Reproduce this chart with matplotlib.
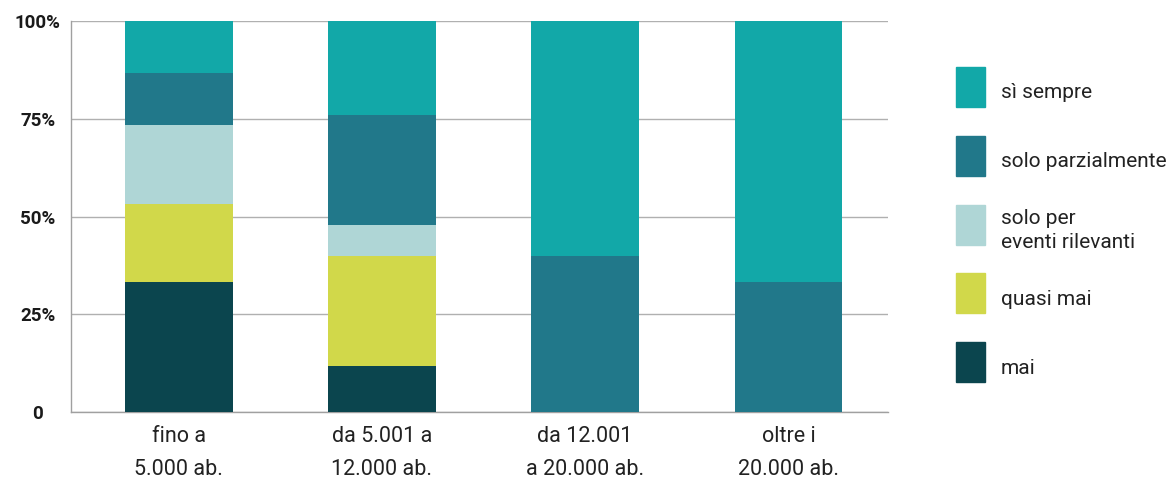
import matplotlib
matplotlib.use("Agg")
import matplotlib.pyplot as plt
from matplotlib.patches import Rectangle
import numpy as np

plt.rcParams['font.family'] = ['Roboto', 'DejaVu Sans']

categories = ["fino a\n5.000 ab.", "da 5.001 a\n12.000 ab.", "da 12.001\na 20.000 ab.", "oltre i\n20.000 ab."]

# shares per category, bottom to top
mai = [33.3, 11.8, 0, 0]
quasi_mai = [20.0, 28.2, 0, 0]
eventi_rilevanti = [20.0, 7.7, 0, 0]
parzialmente = [13.4, 28.2, 40.0, 33.3]
sempre = [13.3, 24.1, 60.0, 66.7]

series = [
    ("mai", mai, "#0B454E"),
    ("quasi mai", quasi_mai, "#D1D84A"),
    ("solo per\neventi rilevanti", eventi_rilevanti, "#AFD6D6"),
    ("solo parzialmente", parzialmente, "#21788A"),
    ("sì sempre", sempre, "#12A8A8"),
]

W, H = 1173, 479
fig = plt.figure(figsize=(W / 100, H / 100), dpi=100)
ax = fig.add_axes([71 / W, 1 - 412 / H, 817 / W, 391 / H])

x = np.arange(len(categories))
bottom = np.zeros(len(categories))
for label, vals, color in series:
    vals = np.array(vals)
    ax.bar(x, vals, bottom=bottom, width=0.53, color=color, label=label, zorder=3)
    bottom += vals

ax.set_xlim(-0.53, 3.49)
ax.set_ylim(0, 100)
ax.set_yticks([0, 25, 50, 75, 100])
ax.set_yticklabels(["0", "25%", "50%", "75%", "100%"], fontsize=13.5, fontweight='bold', color='#1a1a1a')
for t in ax.get_yticklabels():
    t.set_horizontalalignment('center')
ax.tick_params(axis='y', length=0, pad=24)
ax.set_xticks(x)
ax.set_xticklabels(categories, fontsize=15.5, color='#222222', linespacing=1.75)
ax.tick_params(axis='x', length=0, pad=10)

ax.grid(axis='y', color='#b0b0b0', linewidth=1, zorder=0)
for side in ['top', 'right']:
    ax.spines[side].set_visible(False)
for side in ['left', 'bottom']:
    ax.spines[side].set_color('#a0a0a0')
    ax.spines[side].set_linewidth(1)

# legend drawn by hand, top entry first
for i, (label, vals, color) in enumerate(series[::-1]):
    top = 67 + i * 68.8
    fig.add_artist(Rectangle((956 / W, 1 - (top + 40) / H), 29 / W, 40 / H,
                             transform=fig.transFigure, color=color))
    fig.text(1001 / W, 1 - (top + 26) / H, label, fontsize=15, color='#222222',
             va='center', ha='left', linespacing=1.3)

fig.savefig("out.png", dpi=100)
